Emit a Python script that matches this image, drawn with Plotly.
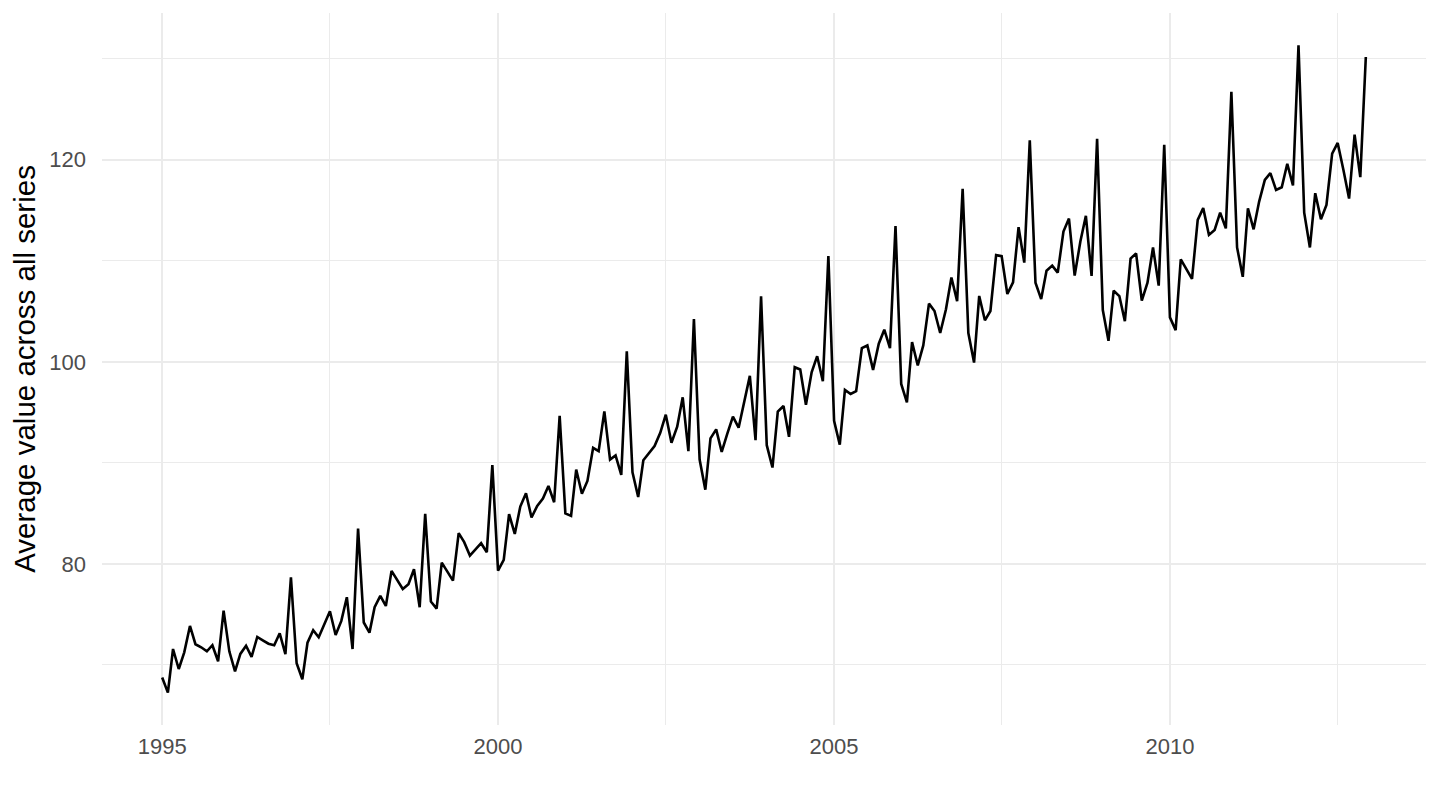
import pandas as pd
import plotly.graph_objects as go

# monthly average across all series, Jan 1995 .. Dec 2012
dates = pd.date_range("1995-01-01", periods=216, freq="MS")

avg_1995_1997 = [68.75, 67.26, 71.58, 69.6, 71.25, 73.86, 72.05, 71.75, 71.35, 71.95, 70.36, 75.38,
                 71.35, 69.37, 71.09, 71.9, 70.8, 72.77, 72.44, 72.1, 71.95, 73.13, 71.06, 78.68,
                 70.17, 68.58, 72.2, 73.43, 72.74, 74.13, 75.31, 72.97, 74.36, 76.7, 71.58, 83.5]
avg_1998_2000 = [74.2, 73.2, 75.71, 76.83, 75.84, 79.31, 78.48, 77.52, 78.0, 79.47, 75.71, 84.95,
                 76.27, 75.58, 80.13, 79.24, 78.35, 83.04, 82.15, 80.83, 81.49, 82.05, 81.16, 89.77,
                 79.34, 80.4, 84.92, 82.97, 85.68, 87.0, 84.59, 85.74, 86.47, 87.72, 86.1, 94.65]
avg_2001_2003 = [85.0, 84.75, 89.34, 86.95, 88.21, 91.49, 91.16, 95.1, 90.33, 90.73, 88.81, 101.03,
                 89.07, 86.62, 90.26, 90.99, 91.66, 92.98, 94.77, 91.99, 93.58, 96.49, 91.16, 104.24,
                 90.33, 87.35, 92.42, 93.31, 91.09, 92.91, 94.57, 93.48, 96.06, 98.61, 92.25, 106.49]
avg_2004_2006 = [91.75, 89.54, 95.07, 95.63, 92.58, 99.47, 99.24, 95.76, 98.97, 100.56, 98.08, 110.46,
                 94.17, 91.8, 97.22, 96.82, 97.09, 101.36, 101.62, 99.2, 101.79, 103.18, 101.36, 113.44,
                 97.81, 95.99, 101.95, 99.64, 101.62, 105.76, 105.03, 102.85, 105.17, 108.34, 105.99, 117.12]
avg_2007_2009 = [102.85, 99.93, 106.52, 104.11, 105.03, 110.56, 110.46, 106.71, 107.87, 113.32, 109.82, 121.92,
                 107.83, 106.21, 109.02, 109.52, 108.83, 112.89, 114.18, 108.53, 111.9, 114.45, 108.5, 122.08,
                 105.12, 102.08, 107.04, 106.51, 104.03, 110.21, 110.74, 106.05, 107.83, 111.31, 107.54, 121.49]
avg_2010_2012 = [104.4, 103.14, 110.15, 109.19, 108.2, 114.05, 115.21, 112.56, 113.05, 114.77, 113.21, 126.72,
                 111.32, 108.41, 115.2, 113.11, 115.86, 118.01, 118.68, 117.02, 117.28, 119.6, 117.45, 131.32,
                 114.77, 111.32, 116.69, 114.11, 115.53, 120.6, 121.66, 119.01, 116.16, 122.48, 118.28, 130.17]

avg_value = (avg_1995_1997 + avg_1998_2000 + avg_2001_2003
             + avg_2004_2006 + avg_2007_2009 + avg_2010_2012)

major_years = ["1995-01-01", "2000-01-01", "2005-01-01", "2010-01-01"]
major_labels = ["1995", "2000", "2005", "2010"]
minor_years = ["1997-07-01", "2002-07-01", "2007-07-01", "2012-07-01"]
y_major = [80, 100, 120]
y_minor = [70, 90, 110, 130]

# ggplot style 5% expansion
span = dates[-1] - dates[0]
x_range = [dates[0] - span * 0.05, dates[-1] + span * 0.05]
y_lo, y_hi = min(avg_value), max(avg_value)
y_range = [y_lo - (y_hi - y_lo) * 0.05, y_hi + (y_hi - y_lo) * 0.05]

fig = go.Figure()
fig.add_trace(go.Scatter(x=dates, y=avg_value, mode="lines",
                         line=dict(color="black", width=2.6), showlegend=False))

grid = "#EBEBEB"
fig.update_xaxes(range=x_range, tickvals=major_years, ticktext=major_labels,
                 showgrid=True, gridcolor=grid, gridwidth=2, zeroline=False,
                 showline=False, ticks="", ticklabelstandoff=6,
                 tickfont=dict(size=22, color="#4D4D4D"),
                 minor=dict(tickvals=minor_years, showgrid=True, gridcolor=grid, gridwidth=1.2))
fig.update_yaxes(range=y_range, tickvals=y_major,
                 showgrid=True, gridcolor=grid, gridwidth=2, zeroline=False,
                 showline=False, ticks="", ticklabelstandoff=15,
                 tickfont=dict(size=22, color="#4D4D4D"),
                 minor=dict(tickvals=y_minor, showgrid=True, gridcolor=grid, gridwidth=1.2),
                 title=dict(text="Average value across all series", standoff=14,
                            font=dict(size=29.5, color="black")))

# the page adds an 8px body margin, so margins are shifted by that much
fig.update_layout(width=1440, height=810, plot_bgcolor="white", paper_bgcolor="white",
                  font=dict(family="Liberation Sans, Arial, sans-serif"),
                  margin=dict(l=94, r=22, t=5, b=93))

fig.write_html("out.html")
